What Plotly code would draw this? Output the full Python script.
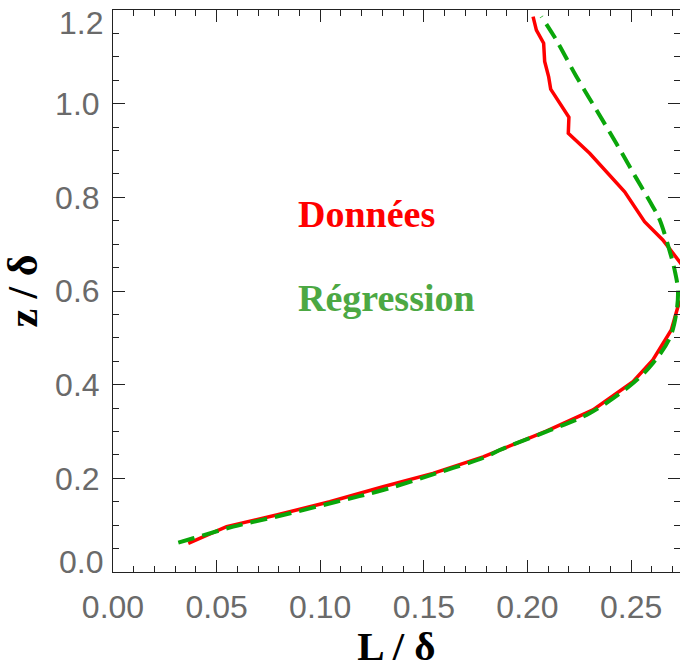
import plotly.graph_objects as go

# Measured mixing-length profile (Données)
data_L = [0.0363, 0.0548, 0.0789, 0.1046, 0.1303, 0.1544, 0.1786, 0.2091,
          0.2316, 0.2509, 0.2605, 0.2694, 0.2726, 0.2770, 0.2790, 0.2734, 0.2653,
          0.2565, 0.2517, 0.2469, 0.2300, 0.2197, 0.2200, 0.2155, 0.2112, 0.2102,
          0.2083, 0.2078, 0.2043, 0.2027]
data_z = [0.0613, 0.0968, 0.1217, 0.1500, 0.1820, 0.2107, 0.2460, 0.3010,
          0.3460, 0.4064, 0.4527, 0.5168, 0.5665, 0.6000, 0.6300, 0.6626, 0.7090,
          0.7480, 0.7800, 0.8120, 0.8940, 0.9370, 0.9710, 1.0010, 1.0310, 1.0580,
          1.0900, 1.1290, 1.1570, 1.1860]

# Fitted profile (Régression)
fit_L = [0.0315, 0.0387, 0.0580, 0.0821, 0.1078, 0.1303, 0.1560, 0.1800, 0.1866,
         0.2091, 0.2300, 0.2509, 0.2605, 0.2686, 0.2718, 0.2726, 0.2710, 0.2694,
         0.2638, 0.2605, 0.2525, 0.2429, 0.2332, 0.2236, 0.2139, 0.2067]
fit_z = [0.0626, 0.0720, 0.0968, 0.1217, 0.1500, 0.1750, 0.2107, 0.2460, 0.2605,
         0.2996, 0.3390, 0.4030, 0.4457, 0.4990, 0.5524, 0.6020, 0.6450, 0.6730,
         0.7520, 0.7800, 0.8410, 0.9150, 0.9870, 1.0580, 1.1360, 1.1860]

x_range = [0.0, 0.2736]
y_range = [0.0, 1.2]
x_ticks = [0.0, 0.05, 0.10, 0.15, 0.20, 0.25]
x_ticktext = ["0.00", "0.05", "0.10", "0.15", "0.20", "0.25"]
y_ticks = [0.0, 0.2, 0.4, 0.6, 0.8, 1.0, 1.2]
y_ticktext = ["", "0.2", "0.4", "0.6", "0.8", "1.0", ""]

TICK_FONT = dict(family="Liberation Sans Narrow, Arial Narrow, Liberation Sans, sans-serif",
                 size=32, color="#6a6a6a")
SERIF = "Liberation Serif, Times New Roman, serif"
AXIS_COLOR = "#222222"

fig = go.Figure()
fig.add_trace(go.Scatter(x=data_L, y=data_z, mode="lines",
                         line=dict(color="#ff0000", width=3.5), showlegend=False))
fig.add_trace(go.Scatter(x=fit_L, y=fit_z, mode="lines",
                         line=dict(color="#0aa60a", width=4, dash="17px,8px", shape="spline"),
                         showlegend=False))

axis_common = dict(showline=True, linecolor=AXIS_COLOR, linewidth=1, mirror="ticks",
                   ticks="inside", ticklen=12, tickwidth=1, tickcolor=AXIS_COLOR,
                   showgrid=False, zeroline=False, tickfont=TICK_FONT)

fig.update_xaxes(range=x_range, tickvals=x_ticks, ticktext=x_ticktext,
                 minor=dict(dtick=0.01, tick0=0, ticks="inside", ticklen=6,
                            tickcolor=AXIS_COLOR, showgrid=False),
                 title=dict(text="<b>L / δ</b>", font=dict(family=SERIF, size=41, color="#000"),
                            standoff=4),
                 ticklabelstandoff=7, **axis_common)
fig.update_yaxes(range=y_range, tickvals=y_ticks, ticktext=y_ticktext,
                 minor=dict(dtick=0.05, tick0=0, ticks="inside", ticklen=6,
                            tickcolor=AXIS_COLOR, showgrid=False),
                 title=dict(text="<b>z / δ</b>", font=dict(family=SERIF, size=42, color="#000"),
                            standoff=12),
                 ticklabelstandoff=6, **axis_common)

# end labels of the z axis sit slightly inside the frame
for txt, yv, shift in [("0.0", 0.0, 10), ("1.2", 1.2, -13)]:
    fig.add_annotation(x=0, y=yv, xref="paper", yref="y", text=txt, showarrow=False,
                       xanchor="right", yanchor="middle", xshift=-8, yshift=shift,
                       font=TICK_FONT)

fig.add_annotation(x=296, y=0.765, xref="x domain", yref="y", text="<b>Données</b>",
                   showarrow=False, xanchor="left", yanchor="middle",
                   font=dict(family=SERIF, size=38, color="#ff0000"))
fig.add_annotation(x=296, y=0.585, xref="x domain", yref="y", text="<b>Régression</b>",
                   showarrow=False, xanchor="left", yanchor="middle",
                   font=dict(family=SERIF, size=38, color="#4ca843"))

fig.update_layout(width=680, height=669, margin=dict(l=113, r=0, t=10, b=97),
                  paper_bgcolor="white", plot_bgcolor="white")

# horizontal annotation positions given in pixels -> domain fraction
for ann in fig.layout.annotations:
    if ann.xref == "x domain":
        ann.x = (ann.x - 113) / 567

fig.write_html("out.html")
